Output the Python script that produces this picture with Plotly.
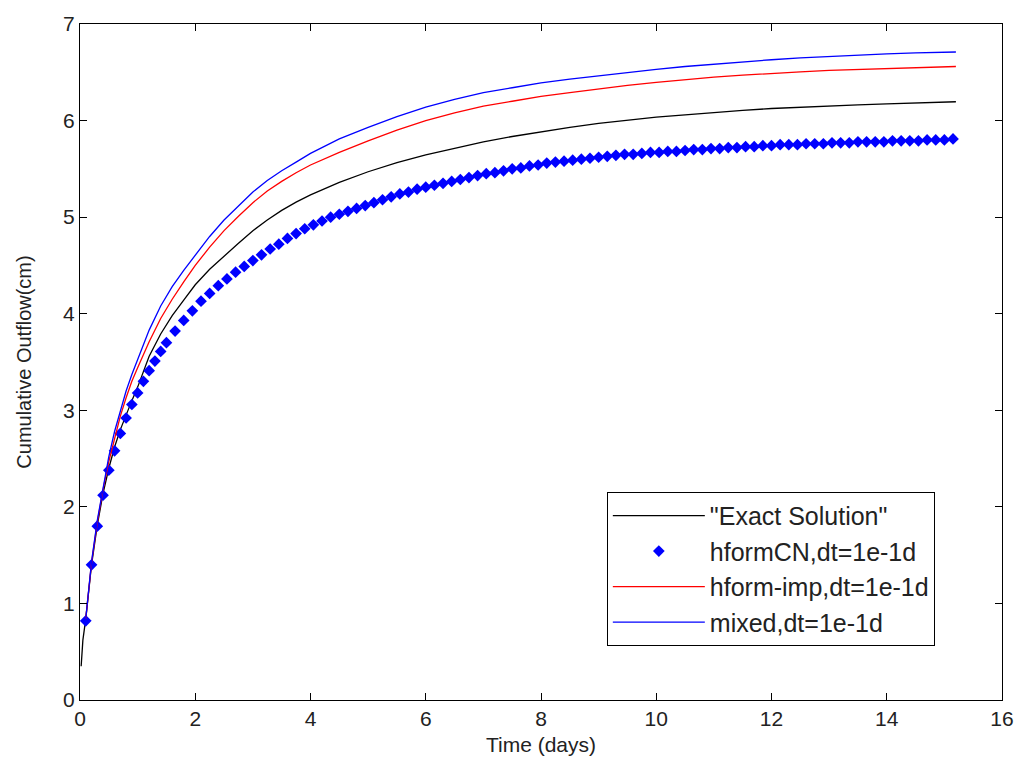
import plotly.graph_objects as go

# ---------------- data ----------------
exact_t = [0.02, 0.05, 0.1, 0.2, 0.3, 0.4, 0.5, 0.6, 0.7, 0.8, 0.9, 1.0, 1.2, 1.4, 1.6, 1.8,
           2.0, 2.25, 2.5, 2.75, 3.0, 3.25, 3.5, 3.75, 4.0, 4.5, 5.0, 5.5, 6.0, 6.5, 7.0, 7.5, 8.0, 8.5,
           9.0, 9.5, 10.0, 10.5, 11.0, 11.5, 12.0, 12.5, 13.0, 13.5, 14.0, 14.5, 15.0, 15.2]
exact_v = [0.35, 0.62, 0.84, 1.40, 1.81, 2.14, 2.40, 2.62, 2.80, 2.96, 3.10, 3.24, 3.56, 3.79, 3.98, 4.14,
           4.30, 4.46, 4.60, 4.73, 4.86, 4.97, 5.07, 5.155, 5.23, 5.36, 5.47, 5.565, 5.645, 5.715, 5.78, 5.835,
           5.885, 5.93, 5.97, 6.005, 6.035, 6.06, 6.085, 6.105, 6.125, 6.14, 6.152, 6.163, 6.173, 6.182,
           6.19, 6.195]

line_t = [0.1, 0.2, 0.3, 0.4, 0.5, 0.6, 0.7, 0.8, 0.9, 1.0, 1.2, 1.4, 1.6, 1.8,
          2.0, 2.25, 2.5, 2.75, 3.0, 3.25, 3.5, 3.75, 4.0, 4.5, 5.0, 5.5, 6.0, 6.5, 7.0, 7.5, 8.0, 8.5,
          9.0, 9.5, 10.0, 10.5, 11.0, 11.5, 12.0, 12.5, 13.0, 13.5, 14.0, 14.5, 15.0, 15.2]
imp_v = [0.84, 1.42, 1.84, 2.18, 2.47, 2.72, 2.94, 3.13, 3.30, 3.44, 3.71, 3.95, 4.15, 4.33,
         4.50, 4.69, 4.86, 5.01, 5.15, 5.27, 5.37, 5.46, 5.54, 5.67, 5.79, 5.90, 6.00, 6.08, 6.15, 6.20,
         6.25, 6.29, 6.33, 6.365, 6.395, 6.425, 6.45, 6.47, 6.49, 6.505, 6.52, 6.53, 6.54, 6.55, 6.558, 6.56]
mixed_v = [0.84, 1.43, 1.86, 2.21, 2.52, 2.78, 3.00, 3.20, 3.37, 3.53, 3.83, 4.08, 4.28, 4.45,
           4.61, 4.80, 4.97, 5.12, 5.26, 5.38, 5.48, 5.57, 5.66, 5.81, 5.93, 6.04, 6.14, 6.22, 6.29, 6.34,
           6.39, 6.43, 6.465, 6.50, 6.53, 6.56, 6.585, 6.61, 6.63, 6.65, 6.665, 6.678, 6.69, 6.70, 6.708, 6.71]

cn_t = [0.1, 0.2, 0.3, 0.4, 0.5, 0.6, 0.7, 0.8, 0.9, 1.0, 1.1, 1.2, 1.3, 1.4, 1.5,
        1.65, 1.8, 1.95, 2.1, 2.25, 2.4, 2.55, 2.7, 2.85, 3.0, 3.15, 3.3, 3.45, 3.6, 3.75, 3.9,
        4.05, 4.2, 4.35, 4.5, 4.65, 4.8, 4.95, 5.1, 5.25, 5.4, 5.55, 5.7, 5.85, 6.0,
        6.15, 6.3, 6.45, 6.6, 6.75, 6.9, 7.05, 7.2, 7.35, 7.5, 7.65, 7.8, 7.95, 8.1,
        8.25, 8.4, 8.55, 8.7, 8.85, 9.0, 9.15, 9.3, 9.45, 9.6, 9.75, 9.9, 10.05, 10.2,
        10.35, 10.5, 10.65, 10.8, 10.95, 11.1, 11.25, 11.4, 11.55, 11.7, 11.85, 12.0,
        12.15, 12.3, 12.45, 12.6, 12.75, 12.9, 13.05, 13.2, 13.35, 13.5, 13.65, 13.8,
        13.95, 14.1, 14.25, 14.4, 14.55, 14.7, 14.85, 15.0, 15.15]
cn_v = [0.82, 1.40, 1.80, 2.12, 2.38, 2.58, 2.76, 2.92, 3.06, 3.18, 3.30, 3.41, 3.51, 3.61, 3.70,
        3.82, 3.93, 4.03, 4.13, 4.21, 4.29, 4.36, 4.43, 4.49, 4.55, 4.61, 4.67, 4.72, 4.78, 4.83, 4.88,
        4.92, 4.96, 5.00, 5.03, 5.06, 5.09, 5.12, 5.15, 5.18, 5.21, 5.24, 5.26, 5.29, 5.31,
        5.33, 5.35, 5.37, 5.39, 5.41, 5.43, 5.45, 5.46, 5.48, 5.50, 5.51, 5.53, 5.54, 5.56,
        5.57, 5.58, 5.59, 5.60, 5.61, 5.62, 5.63, 5.64, 5.65, 5.65, 5.66, 5.67, 5.67, 5.68,
        5.68, 5.69, 5.70, 5.70, 5.71, 5.71, 5.72, 5.72, 5.73, 5.73, 5.74, 5.74,
        5.75, 5.75, 5.75, 5.76, 5.76, 5.76, 5.77, 5.77, 5.77, 5.78, 5.78, 5.78,
        5.78, 5.79, 5.79, 5.79, 5.79, 5.80, 5.80, 5.80, 5.81]

x_ticks = [0, 2, 4, 6, 8, 10, 12, 14, 16]
y_ticks = [0, 1, 2, 3, 4, 5, 6, 7]

names = ['"Exact Solution"', 'hformCN,dt=1e-1d', 'hform-imp,dt=1e-1d', 'mixed,dt=1e-1d']

FONT = "Liberation Sans, Arial, sans-serif"

fig = go.Figure()
fig.add_trace(go.Scatter(x=exact_t, y=exact_v, mode="lines", name=names[0],
                         line=dict(color="#000000", width=1.3)))
fig.add_trace(go.Scatter(x=cn_t, y=cn_v, mode="markers", name=names[1],
                         marker=dict(symbol="diamond", size=9, color="#0000ff")))
fig.add_trace(go.Scatter(x=line_t, y=imp_v, mode="lines", name=names[2],
                         line=dict(color="#ff0000", width=1.3)))
fig.add_trace(go.Scatter(x=line_t, y=mixed_v, mode="lines", name=names[3],
                         line=dict(color="#0000ff", width=1.3)))

axis_common = dict(showline=True, linecolor="black", linewidth=1, mirror="ticks",
                   ticks="inside", ticklen=7, tickcolor="black", showgrid=False,
                   zeroline=False, tickfont=dict(family=FONT, size=21, color="#222"))

fig.update_xaxes(range=[0, 16], tickvals=x_ticks, ticktext=[str(v) for v in x_ticks],
                 title=dict(text="Time (days)", font=dict(family=FONT, size=21, color="#222"),
                            standoff=8),
                 **axis_common)
fig.update_yaxes(range=[0, 7], tickvals=y_ticks, ticktext=[str(v) for v in y_ticks],
                 title=dict(text="Cumulative Outflow(cm)", font=dict(family=FONT, size=20, color="#222"),
                            standoff=26),
                 **axis_common)

fig.update_layout(
    width=1026, height=776,
    margin=dict(l=80, r=22, t=18, b=76),
    paper_bgcolor="white", plot_bgcolor="white",
    font=dict(family=FONT, size=21, color="#222"),
    legend=dict(x=0.5714, y=0.3079, xanchor="left", yanchor="top",
                bgcolor="white", bordercolor="black", borderwidth=1,
                font=dict(family=FONT, size=25, color="#222"),
                tracegroupgap=0, itemwidth=92),
)

fig.write_html("out.html")
